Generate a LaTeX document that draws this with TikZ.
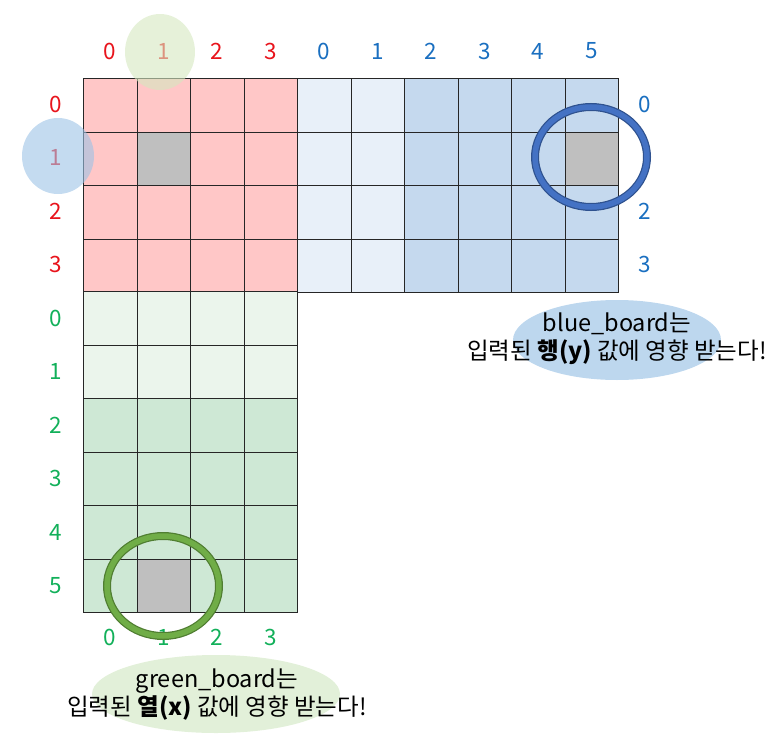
\documentclass[tikz,border=0pt]{standalone}
\usepackage{fontspec}
\setmainfont{Noto Sans CJK KR}
\usetikzlibrary{positioning}

\definecolor{redcell}{HTML}{FFC7C7}
\definecolor{bluelight}{HTML}{E8F0F9}
\definecolor{bluecell}{HTML}{C5D9EE}
\definecolor{greenlight}{HTML}{EBF5EC}
\definecolor{greencell}{HTML}{CEE8D5}
\definecolor{picked}{HTML}{BFBFBF}
\definecolor{redtxt}{HTML}{E8141C}
\definecolor{bluetxt}{HTML}{1A6FC0}
\definecolor{greentxt}{HTML}{12B05A}
\definecolor{bluering}{HTML}{4472C4}
\definecolor{bluerimdark}{HTML}{2F528F}
\definecolor{greenring}{HTML}{70AD47}
\definecolor{greenrimdark}{HTML}{507E32}
\definecolor{bluenotefill}{HTML}{BDD7EE}
\definecolor{greennotefill}{HTML}{E2F0D9}
\definecolor{greenmark}{HTML}{D5E8C0}
\definecolor{bluemark}{HTML}{9DC3E6}

% one square of a board: origin x, origin y, column, row
\newcommand\sq[4]{({round(#1+53.5*#3)+0.5},{round(#2+53.5*#4)+0.5}) rectangle ({round(#1+53.5*(#3+1))+0.5},{round(#2+53.5*(#4+1))+0.5})}

\tikzset{
  cell/.style={draw=black!85, line width=1.3pt},
  idx/.style={inner sep=0pt, font=\fontsize{22.5}{22.5}\selectfont},
  note/.style={inner sep=0pt, align=center, font=\fontsize{23.5}{28}\selectfont},
}

\begin{document}
\begin{tikzpicture}[x=1pt, y=-1pt]
  \useasboundingbox (0,0) rectangle (784,749);
  \def\s{53.5}

  % red board
  \foreach \r in {0,...,3}
    \foreach \c in {0,...,3}
      \draw[cell, fill=redcell] \sq{83}{78}{\c}{\r};
  % blue board
  \foreach \r in {0,...,3} {
    \foreach \c in {0,1}
      \draw[cell, fill=bluelight] \sq{297}{78}{\c}{\r};
    \foreach \c in {2,...,5}
      \draw[cell, fill=bluecell] \sq{297}{78}{\c}{\r};
  }
  % green board
  \foreach \c in {0,...,3} {
    \foreach \r in {0,1}
      \draw[cell, fill=greenlight] \sq{83}{291}{\c}{\r};
    \foreach \r in {2,...,5}
      \draw[cell, fill=greencell] \sq{83}{291}{\c}{\r};
  }
  % picked cells
  \draw[cell, fill=picked] \sq{83}{78}{1}{1};
  \draw[cell, fill=picked] \sq{297}{78}{5}{1};
  \draw[cell, fill=picked] \sq{83}{291}{1}{5};

  % indices
  \foreach \i in {0,...,3} {
    \node[idx, text=redtxt] (redcol\i) at (110+\s*\i, 51) {\i};
    \node[idx, text=redtxt] (redrow\i) at (56, 104+\s*\i) {\i};
    \node[idx, text=greentxt] (greencol\i) at (110+\s*\i, 637) {\i};
  }
  \foreach \i in {0,...,5} {
    \node[idx, text=bluetxt] (bluecol\i) at (324+\s*\i, 51) {\i};
    \node[idx, text=greentxt] (greenrow\i) at (56, 318+\s*\i) {\i};
  }
  \foreach \i in {0,2,3}
    \node[idx, text=bluetxt] (bluerow\i) at (645, 104+\s*\i) {\i};

  % marks on the chosen column and row
  \fill[greenmark, opacity=0.6] (160,52) ellipse [x radius=35, y radius=38];
  \fill[bluemark, opacity=0.6] (58,156) ellipse [x radius=36, y radius=38];

  % rings
  \draw[bluerimdark, line width=8pt] (591,157) ellipse [x radius=56, y radius=50];
  \draw[bluering, line width=5.5pt] (591,157) ellipse [x radius=56, y radius=50];
  \draw[greenrimdark, line width=8pt] (163,586) ellipse [x radius=56, y radius=50];
  \draw[greenring, line width=5.5pt] (163,586) ellipse [x radius=56, y radius=50];

  % notes
  \fill[bluenotefill] (617,340) ellipse [x radius=104, y radius=40];
  \node[note] (bluenote) at (617,339) {blue\_board는\\입력된 \textbf{행(y)} 값에 영향 받는다!};
  \fill[greennotefill] (216,694) ellipse [x radius=124, y radius=39];
  \node[note] (greennote) at (217,695) {green\_board는\\입력된 \textbf{열(x)} 값에 영향 받는다!};
\end{tikzpicture}
\end{document}
